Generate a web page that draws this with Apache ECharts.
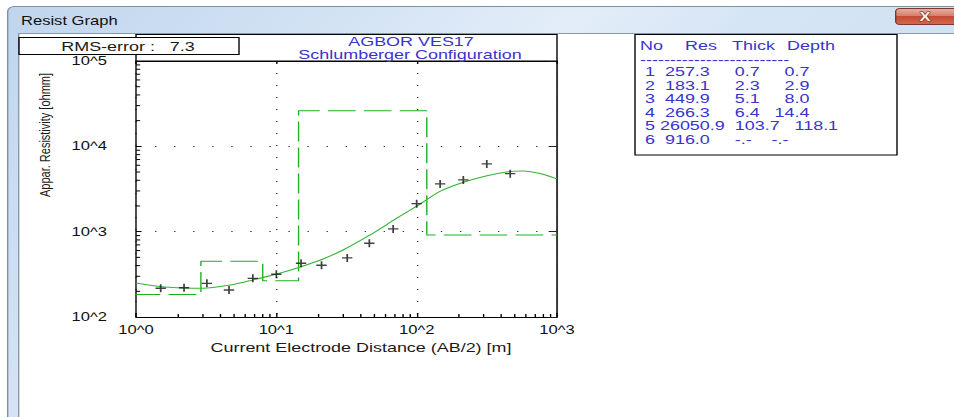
<!DOCTYPE html>
<html><head><meta charset="utf-8">
<script src="https://cdn.jsdelivr.net/npm/echarts@6/dist/echarts.min.js"></script>
<style>
html,body{margin:0;padding:0;background:#fff;overflow:hidden;width:954px;height:417px;}
#chart{width:691px;height:417px;transform:scaleX(1.380607815);transform-origin:0 0;}
</style></head><body><div id="chart"></div>
<script>
// ---------------- data ----------------
const xTickLabels = ['10^0', '10^1', '10^2', '10^3'];
const yTickLabels = ['10^2', '10^3', '10^4', '10^5'];
// observed apparent resistivity (AB/2 [m], rho_a [ohmm])
const abHalf = [1.5, 2.2, 3.2, 4.6, 6.8, 10, 15, 21, 32, 46, 68, 100, 147, 215, 316, 464];
const apparentRes = [217, 220, 248, 207, 284, 317, 426, 404, 492, 731, 1076, 2129, 3625, 4037, 6220, 4786];
// calculated model curve
const modelAB = [1, 1.48, 2.2, 3.0, 4.68, 6.82, 10.1, 14.8, 21.5, 29.9, 46.5, 69, 100.7, 149, 218, 323, 471, 573, 758, 1000];
const modelRes = [250, 228, 219, 217, 237, 272, 319, 386, 479, 610, 915, 1372, 2001, 3000, 3826, 4560, 5080, 5150, 4810, 4150];
// layered model
const layerNo = [1, 2, 3, 4, 5, 6];
const layerRes = [257.3, 183.1, 449.9, 266.3, 26050.9, 916.0];
const layerThick = [0.7, 2.3, 5.1, 6.4, 103.7];
const layerDepth = [0.7, 2.9, 8.0, 14.4, 118.1];
const rmsError = 7.3;
const titleLines = ['AGBOR VES17', 'Schlumberger Configuration'];
const tableHeader = ['No', 'Res', 'Thick', 'Depth'];
const xMinorTicks = [2,3,4,5,6,7,8,9,20,30,40,50,60,70,80,90,200,300,400,500,600,700,800,900];
const yMinorTicks = [200,300,400,500,600,700,800,900,2000,3000,4000,5000,6000,7000,8000,9000,20000,30000,40000,50000,60000,70000,80000,90000];
const X_MIN = 1, X_MAX = 1000, Y_MIN = 100, Y_MAX = 100000;

// ---------------- layout ----------------
const S = 954 / 691;
const X = v => v / S;
const FONT = '"Liberation Sans", Arial, sans-serif';
const BLUE = '#3a33cc';
const nb = n => '\u00a0'.repeat(n);

function txt(x, y, text, opt) {
  opt = opt || {};
  const align = opt.align || 'left';
  return {
    type: 'text', x: x, y: y, rotation: opt.rotation || 0, z: opt.z || 5, silent: true,
    style: {
      text: text, fill: opt.fill || '#000',
      font: (opt.weight ? opt.weight + ' ' : '') + (opt.size || 13) + 'px ' + (opt.family || FONT),
      align: align, textAlign: align, verticalAlign: 'middle', textVerticalAlign: 'middle',
      stroke: opt.stroke, lineWidth: opt.lineWidth || 0
    }
  };
}

const G = echarts.graphic;
const graphics = [];
// window frame
graphics.push({type: 'rect', z: -10, silent: true,
  shape: {x: X(7) + 0.5, y: 6.5, width: 720, height: 440, r: [5, 5, 0, 0]},
  style: {fill: new G.LinearGradient(0, 0, 1, 0.4, [
    {offset: 0, color: '#c0d5ed'}, {offset: 0.3, color: '#d3e3f4'},
    {offset: 0.5, color: '#e3edf9'}, {offset: 0.65, color: '#d6e5f5'}, {offset: 1, color: '#cddff2'}]),
    stroke: '#7d90a6', lineWidth: 1}});
// client area
graphics.push({type: 'rect', z: -9, silent: true,
  shape: {x: X(18) + 0.5, y: 33.5, width: 720, height: 400},
  style: {fill: '#ffffff', stroke: '#8a98a8', lineWidth: 1}});
// window title
graphics.push(txt(X(21), 21, 'Resist Graph', {size: 12, fill: '#111', z: -8}));
// close button
graphics.push({type: 'rect', z: -8, silent: true,
  shape: {x: X(895) + 0.5, y: 8.5, width: X(957) - X(895), height: 16, r: 3},
  style: {fill: new G.LinearGradient(0, 0, 0, 1, [
    {offset: 0, color: '#eab0a2'}, {offset: 0.45, color: '#d7806c'},
    {offset: 0.5, color: '#c44a33'}, {offset: 1, color: '#d46a50'}]),
    stroke: '#7a3a30', lineWidth: 1}});
graphics.push(txt(X(925), 16.5, 'X', {size: 12, weight: 'bold', fill: '#f4f4f4', stroke: '#6d3329', lineWidth: 1.2, align: 'center', z: -7}));

// title box
graphics.push({type: 'rect', z: 1, silent: true,
  shape: {x: X(136), y: 34.5, width: X(557) - X(136), height: 26.5},
  style: {fill: '#fff', stroke: '#000', lineWidth: 1}});
graphics.push(txt(X(411), 41.5, titleLines[0], {fill: BLUE, align: 'center', z: 3}));
graphics.push(txt(X(410), 54.5, titleLines[1], {fill: BLUE, align: 'center', z: 3}));
// RMS box
graphics.push({type: 'rect', z: 4, silent: true,
  shape: {x: X(19), y: 37.5, width: X(239) - X(19), height: 17},
  style: {fill: '#fff', stroke: '#000', lineWidth: 1}});
graphics.push(txt(X(128), 46.5, 'RMS-error :' + nb(3) + rmsError.toFixed(1), {fill: '#1a1a1a', align: 'center', z: 6}));
// table box
graphics.push({type: 'rect', z: 1, silent: true,
  shape: {x: X(635), y: 34.5, width: X(897) - X(635), height: 120.5},
  style: {fill: '#fff', stroke: '#000', lineWidth: 1}});
const headerX = [640, 685, 732, 787];
tableHeader.forEach((h, i) => graphics.push(txt(X(headerX[i]), 45, h, {fill: BLUE, z: 3})));
graphics.push(txt(X(640), 59, '-'.repeat(25), {fill: BLUE, z: 3}));
const rowGaps = [[2, 5, 5], [2, 5, 5], [2, 5, 5], [2, 5, 3], [1, 2, 3], [2, 5, 4]];
layerNo.forEach((n, i) => {
  const th = i < layerThick.length ? layerThick[i].toFixed(1) : '-.-';
  const dp = i < layerDepth.length ? layerDepth[i].toFixed(1) : '-.-';
  const g = rowGaps[i];
  const s = String(n) + nb(g[0]) + layerRes[i].toFixed(1) + nb(g[1]) + th + nb(g[2]) + dp;
  graphics.push(txt(X(645), 71.7 + i * 13.45, s, {fill: BLUE, z: 3}));
});
// axis titles
graphics.push(txt(X(361), 347, 'Current Electrode Distance (AB/2) [m]', {fill: '#1a1a1a', align: 'center'}));
graphics.push(txt(X(45), 135, 'Appar. Resistivity [ohmm]', {fill: '#1a1a1a', size: 11, align: 'center', rotation: Math.PI / 2}));

// ---------------- series data ----------------
const observed = abHalf.map((x, i) => [x, apparentRes[i]]);
const curve = modelAB.map((x, i) => [x, modelRes[i]]);
const steps = [[layerDepth[0], layerRes[0]]];
layerDepth.forEach((d, i) => { steps.push([d, layerRes[i]]); steps.push([d, layerRes[i + 1]]); });
steps.push([X_MAX, layerRes[layerRes.length - 1]]);

const gl = X(136), gr = X(557);
const lbl = {fontSize: 12, fontFamily: FONT, color: '#111', showMinLabel: true, showMaxLabel: true};

const chart = echarts.init(document.getElementById('chart'), null, {renderer: 'svg'});
chart.setOption({
  animation: false,
  graphic: {elements: graphics},
  grid: {left: gl, top: 61, width: gr - gl, height: 256, show: false, containLabel: false, outerBoundsMode: 'none'},
  xAxis: [
    {type: 'log', logBase: 10, min: X_MIN, max: X_MAX, position: 'bottom',
     axisLine: {show: true, lineStyle: {color: '#000', width: 1}},
     axisTick: {show: true, inside: true, length: 4, lineStyle: {color: '#000'}},
     axisLabel: Object.assign({margin: 7, formatter: v => xTickLabels[Math.round(Math.log10(v))]}, lbl),
     splitLine: {show: true, lineStyle: {color: '#333', width: 1, type: [1, 11]}}},
    {type: 'log', logBase: 10, min: X_MIN, max: X_MAX, position: 'top',
     axisLine: {show: true, lineStyle: {color: '#000', width: 1}},
     axisTick: {show: true, inside: true, length: 3, lineStyle: {color: '#000'}},
     axisLabel: {show: false}, splitLine: {show: false}}
  ],
  yAxis: [
    {type: 'log', logBase: 10, min: Y_MIN, max: Y_MAX, position: 'left',
     axisLine: {show: true, lineStyle: {color: '#000', width: 1}},
     axisTick: {show: true, inside: true, length: 4, lineStyle: {color: '#000'}},
     axisLabel: Object.assign({margin: 21, formatter: v => yTickLabels[Math.round(Math.log10(v)) - 2]}, lbl),
     splitLine: {show: true, lineStyle: {color: '#333', width: 1, type: [1, 12.8]}}},
    {type: 'log', logBase: 10, min: Y_MIN, max: Y_MAX, position: 'right',
     axisLine: {show: true, lineStyle: {color: '#333', width: 1.4}},
     axisTick: {show: true, inside: true, length: 6, lineStyle: {color: '#222'}},
     axisLabel: {show: false}, splitLine: {show: false}}
  ],
  series: [
    {type: 'custom', silent: true, clip: false, z: 6,
     data: xMinorTicks.map(v => [v, Y_MIN]),
     renderItem: (p, api) => { const c = api.coord([api.value(0), api.value(1)]);
       return {type: 'line', shape: {x1: c[0], y1: c[1], x2: c[0], y2: c[1] - 3}, style: {stroke: '#000', lineWidth: 1}}; }},
    {type: 'custom', silent: true, clip: false, z: 6,
     data: yMinorTicks.map(v => [X_MIN, v]),
     renderItem: (p, api) => { const c = api.coord([api.value(0), api.value(1)]);
       return {type: 'line', shape: {x1: c[0], y1: c[1], x2: c[0] + 3, y2: c[1]}, style: {stroke: '#000', lineWidth: 1}}; }},
    {type: 'line', data: steps, showSymbol: false, silent: true, z: 3,
     lineStyle: {color: '#1fb01f', width: 1, type: [20, 6]}},
    {type: 'line', data: curve, smooth: 0.3, showSymbol: false, silent: true, z: 4,
     lineStyle: {color: '#35b535', width: 1}},
    {type: 'scatter', data: observed, z: 5, silent: true,
     symbol: 'path://M0,5L10,5M5,0L5,10', symbolSize: [7.5, 8],
     itemStyle: {color: 'rgba(0,0,0,0)', borderColor: '#111', borderWidth: 1.3}}
  ]
});
</script></body></html>
